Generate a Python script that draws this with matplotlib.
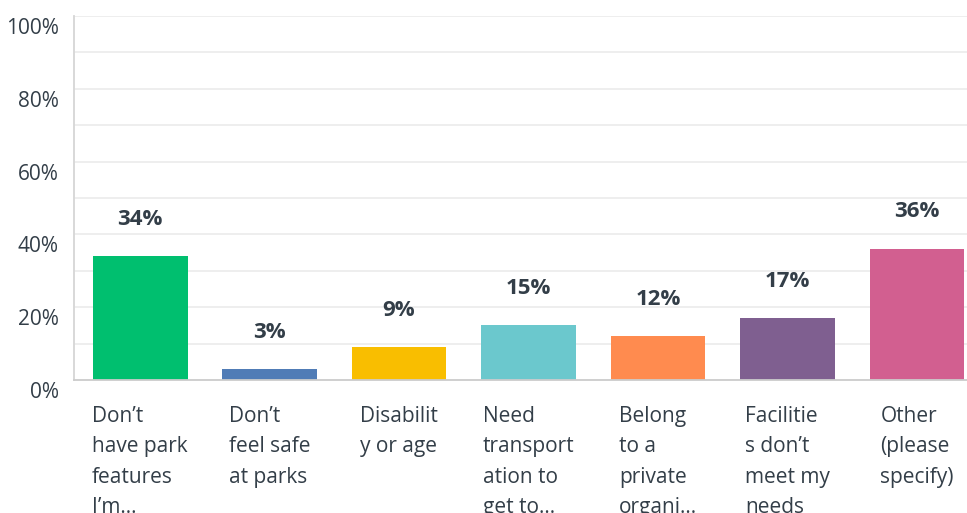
import matplotlib
matplotlib.use("Agg")
import matplotlib.pyplot as plt
from matplotlib.transforms import ScaledTranslation, blended_transform_factory

categories = [
    "Don\u2019t\nhave park\nfeatures\nI\u2019m\u2026",
    "Don\u2019t\nfeel safe\nat parks",
    "Disabilit\ny or age",
    "Need\ntransport\nation to\nget to\u2026",
    "Belong\nto a\nprivate\norgani\u2026",
    "Facilitie\ns don\u2019t\nmeet my\nneeds",
    "Other\n(please\nspecify)",
]
values = [34, 3, 9, 15, 12, 17, 36]
value_labels = ["34%", "3%", "9%", "15%", "12%", "17%", "36%"]
colors = ["#00BF6F", "#507CB6", "#F9BE00", "#6BC8CD", "#FF8B4F", "#7F5F90", "#D25F90"]
yticks = [0, 20, 40, 60, 80, 100]
ytick_labels = ["0%", "20%", "40%", "60%", "80%", "100%"]

plt.rcParams['font.family'] = ['Open Sans', 'DejaVu Sans']
TXT = "#333E48"

W, H = 967, 513
fig = plt.figure(figsize=(W / 100, H / 100), dpi=100)
ax = fig.add_axes([74 / W, (H - 380) / H, (W - 74) / W, 364 / H])

x = list(range(len(values)))
ax.bar(x, values, width=0.733, color=colors, zorder=3)
ax.set_xlim(-0.51, 6.386)
ax.set_ylim(0, 100)

for v in range(10, 101, 10):
    ax.axhline(v, color="#EBEBEB", lw=1.2, zorder=1)

for s in ["top", "right"]:
    ax.spines[s].set_visible(False)
ax.spines["left"].set_color("#D6D6D6")
ax.spines["left"].set_linewidth(1.3)
ax.spines["bottom"].set_color("#CCCCCC")
ax.spines["bottom"].set_linewidth(1.3)
ax.spines["bottom"].set_zorder(4)

ax.set_yticks(yticks)
ax.set_yticklabels(ytick_labels, fontsize=15, color=TXT)
ax.tick_params(axis="y", length=0, pad=11)
off = ScaledTranslation(0, -10 / 100, fig.dpi_scale_trans)
for lab in ax.get_yticklabels():
    lab.set_transform(lab.get_transform() + off)
ax.set_xticks([])

lbl_off = ScaledTranslation(0, 37 / 100, fig.dpi_scale_trans)
for xi, v, t in zip(x, values, value_labels):
    ax.text(xi, v, t, ha="center", va="center", fontsize=16, fontweight="bold",
            color=TXT, transform=ax.transData + lbl_off)

cat_off = ScaledTranslation(0, -26 / 100, fig.dpi_scale_trans)
trans = blended_transform_factory(ax.transData, ax.transAxes) + cat_off
for xi, c in zip(x, categories):
    ax.text(xi, 0, c, ha="center", va="top", multialignment="left", fontsize=15,
            color=TXT, linespacing=1.58, transform=trans, clip_on=False)

fig.savefig("out.png", dpi=100)
